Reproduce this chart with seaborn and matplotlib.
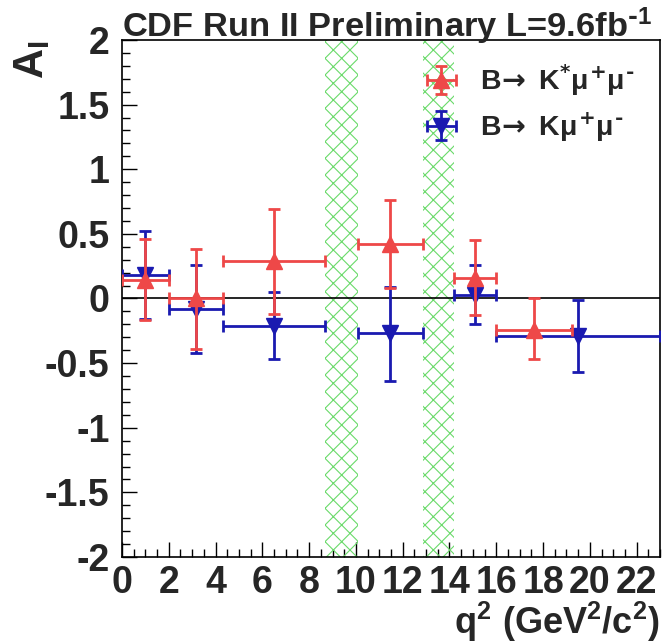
import numpy as np
import pandas as pd
import seaborn as sns
import matplotlib.pyplot as plt
from matplotlib.ticker import MultipleLocator, FuncFormatter

# q^2 bins (GeV^2/c^2) and isospin asymmetry A_I
kst_lo = [0.0, 2.0, 4.3, 10.09, 14.18, 16.0]
kst_hi = [2.0, 4.3, 8.68, 12.86, 16.0, 19.25]
kst_val = [0.14, 0.00, 0.29, 0.42, 0.16, -0.24]
kst_up = [0.32, 0.38, 0.40, 0.34, 0.29, 0.24]
kst_dn = [0.31, 0.39, 0.41, 0.34, 0.29, 0.23]

k_lo = [0.0, 2.0, 4.3, 10.09, 14.18, 16.0]
k_hi = [2.0, 4.3, 8.68, 12.86, 16.0, 23.0]
k_val = [0.18, -0.08, -0.21, -0.27, 0.03, -0.29]
k_up = [0.34, 0.34, 0.26, 0.36, 0.23, 0.28]
k_dn = [0.34, 0.34, 0.26, 0.37, 0.23, 0.28]

# charmonium veto regions
veto_lo = [8.68, 12.86]
veto_hi = [10.09, 14.18]

sns.set_theme(style='ticks')
plt.rcParams['font.family'] = ['Liberation Sans', 'DejaVu Sans']
plt.rcParams['font.weight'] = 'bold'
plt.rcParams['mathtext.fontset'] = 'custom'
plt.rcParams['mathtext.rm'] = 'DejaVu Sans'
plt.rcParams['mathtext.it'] = 'Liberation Sans'
plt.rcParams['mathtext.bf'] = 'Liberation Sans:bold'
plt.rcParams['axes.unicode_minus'] = False
plt.rcParams['hatch.linewidth'] = 0.8


def make_df(lo, hi, val, up, dn):
    df = pd.DataFrame({'lo': lo, 'hi': hi, 'val': val, 'up': up, 'dn': dn})
    df['q2'] = (df['lo'] + df['hi']) / 2
    df['xerr'] = (df['hi'] - df['lo']) / 2
    return df


kst = make_df(kst_lo, kst_hi, kst_val, kst_up, kst_dn)
kk = make_df(k_lo, k_hi, k_val, k_up, k_dn)

fig = plt.figure(figsize=(6.64, 6.44), dpi=100)
ax = fig.add_axes([0.1837, 0.1351, 0.8103, 0.8028])

for lo, hi in zip(veto_lo, veto_hi):
    ax.axvspan(lo, hi, facecolor='none', edgecolor='#6ada6a', hatch='xx',
               linewidth=0, zorder=1)

ax.axhline(0, color='black', lw=1.2, zorder=2)

red = '#ee4848'
blue = '#1a1ab0'
lab_k = r'$\mathbf{B}\!\rightarrow\ \mathbf{K}\mu^{+}\mu^{\text{-}}$'
lab_kst = r'$\mathbf{B}\!\rightarrow\ \mathbf{K}^{*}\mu^{+}\mu^{\text{-}}$'
ax.errorbar(kk['q2'], kk['val'], xerr=kk['xerr'], yerr=[kk['dn'], kk['up']],
            fmt='v', color=blue, ms=12, elinewidth=2, capsize=4, capthick=2,
            label=lab_k, zorder=3)
ax.errorbar(kst['q2'], kst['val'], xerr=kst['xerr'], yerr=[kst['dn'], kst['up']],
            fmt='^', color=red, ms=12, elinewidth=2, capsize=4, capthick=2,
            label=lab_kst, zorder=4)

ax.set_xlim(0, 23)
ax.set_ylim(-2, 2)
ax.xaxis.set_major_locator(MultipleLocator(2))
ax.xaxis.set_minor_locator(MultipleLocator(0.5))
ax.yaxis.set_major_locator(MultipleLocator(0.5))
ax.yaxis.set_minor_locator(MultipleLocator(0.1))
ax.yaxis.set_major_formatter(FuncFormatter(lambda v, p: '%g' % v))
ax.tick_params(which='both', direction='in', top=False, right=False,
               labelsize=27, width=1, color='black')
ax.tick_params(which='major', length=11)
ax.tick_params(which='minor', length=5.5)
ax.tick_params(axis='x', pad=6)
ax.tick_params(axis='y', pad=9)
for s in ax.spines.values():
    s.set_linewidth(1.2)
    s.set_color('black')

ax.set_xlabel(r'$\mathbf{q^{2}\ (GeV^{2}/c^{2})}$', fontsize=26, loc='right')
ax.xaxis.set_label_coords(1.0, -0.082)
ax.set_ylabel(r'$\mathbf{A_{I}}$', fontsize=30, loc='top')
ax.yaxis.set_label_coords(-0.13, 1.0)

fig.text(122 / 664, 1 - 37 / 644,
         r'CDF Run II Preliminary L=9.6fb$^{\text{-}\mathbf{1}}$',
         fontsize=24.8, fontweight='bold', ha='left', va='baseline')

handles, labels = ax.get_legend_handles_labels()
ax.legend(handles[::-1], labels[::-1], loc='upper right', bbox_to_anchor=(0.99, 0.995),
          frameon=False, fontsize=20.5, handlelength=1.8, handletextpad=0.45,
          labelspacing=0.45, borderaxespad=0.3)

fig.savefig('out.png', dpi=100)
